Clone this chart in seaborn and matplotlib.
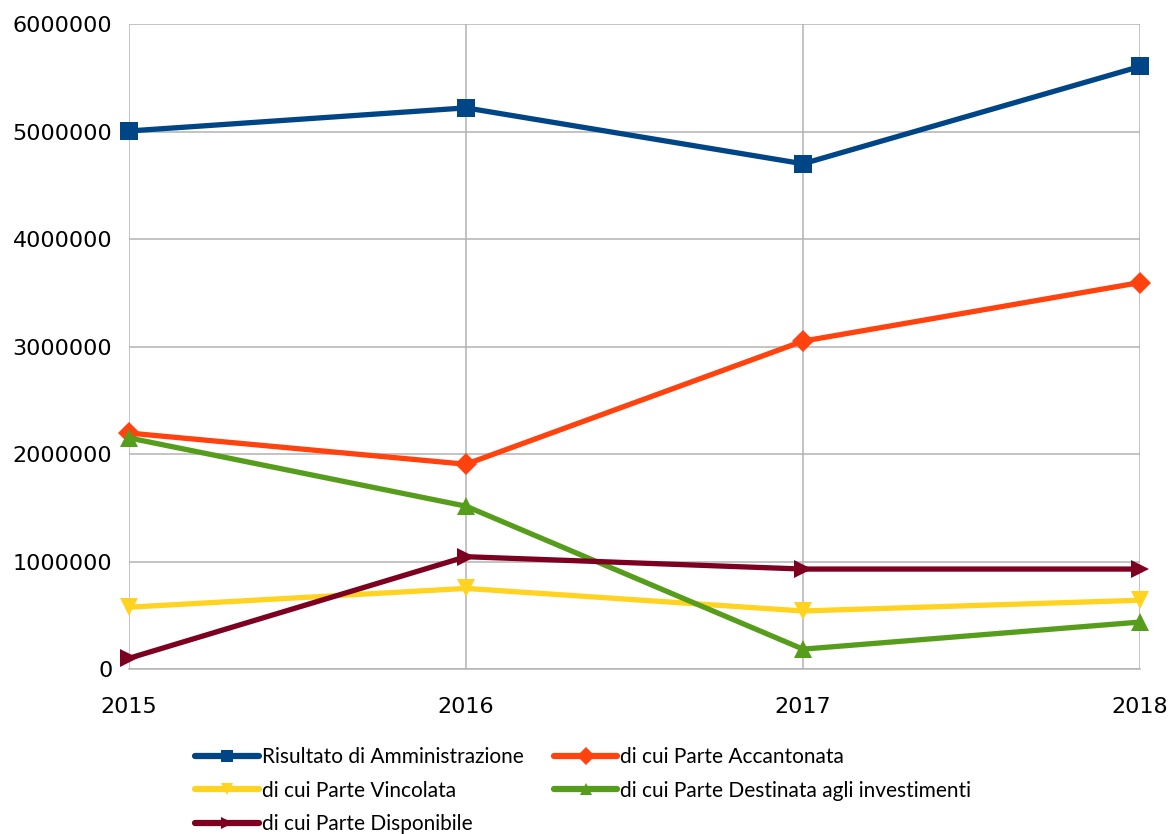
import matplotlib
matplotlib.use("Agg")
import matplotlib.pyplot as plt
import seaborn as sns
import pandas as pd

years = [2015, 2016, 2017, 2018]
series_names = [
    "Risultato di Amministrazione",
    "di cui Parte Accantonata",
    "di cui Parte Vincolata",
    "di cui Parte Destinata agli investimenti",
    "di cui Parte Disponibile",
]
risultato = [5005000, 5220000, 4700000, 5605000]
accantonata = [2195000, 1905000, 3050000, 3595000]
vincolata = [575000, 750000, 540000, 640000]
destinata = [2150000, 1515000, 185000, 437000]
disponibile = [100000, 1045000, 930000, 930000]
values = [risultato, accantonata, vincolata, destinata, disponibile]

colors = ["#004586", "#ff420e", "#ffd320", "#579d1c", "#7e0021"]
marker_list = ["s", "D", "v", "^", ">"]

rows = []
for name, vals in zip(series_names, values):
    for y, v in zip(years, vals):
        rows.append({"Anno": y, "Valore": v, "Serie": name})
df = pd.DataFrame(rows)

sns.set_theme(style="white")
plt.rcParams["font.family"] = ["DejaVu Sans"]

fig = plt.figure(figsize=(11.68, 8.34), dpi=100)
ax = fig.add_axes([0.1104, 0.1978, 0.8656, 0.7734])

sns.lineplot(
    data=df, x="Anno", y="Valore", hue="Serie", style="Serie",
    hue_order=series_names, style_order=series_names,
    palette=dict(zip(series_names, colors)),
    markers=dict(zip(series_names, marker_list)),
    dashes=False, linewidth=3.8, markersize=13, markeredgewidth=0,
    ax=ax, legend=True, clip_on=False,
)
for line in ax.get_lines():
    if line.get_marker() == "D":
        line.set_markersize(11)

ax.set_xlim(2015, 2018)
ax.set_ylim(0, 6000000)
ax.set_xticks(years)
ax.set_xticklabels([str(y) for y in years])
ax.set_yticks(range(0, 6000001, 1000000))
ax.set_yticklabels([str(v) for v in range(0, 6000001, 1000000)])
ax.set_xlabel("")
ax.set_ylabel("")
ax.grid(True, color="#b3b3b3", linewidth=1.1)
ax.set_axisbelow(True)
for s in ["top", "right", "left"]:
    ax.spines[s].set_visible(False)
ax.spines["bottom"].set_color("#b3b3b3")
ax.spines["bottom"].set_linewidth(1.1)
ax.tick_params(axis="both", which="both", length=6, width=1.1, color="#b3b3b3",
               labelsize=16, labelcolor="black")
ax.tick_params(axis="y", pad=6)
ax.tick_params(axis="x", pad=14)

handles, labels = ax.get_legend_handles_labels()
ax.get_legend().remove()
order = [0, 2, 4, 1, 3]
leg = fig.legend(
    [handles[i] for i in order], [labels[i] for i in order],
    loc="lower left", bbox_to_anchor=(0.151, -0.023),
    ncol=2, frameon=False, handlelength=3.05, handletextpad=0.15,
    columnspacing=1.45, labelspacing=0.66, labelcolor="black",
    prop={"family": ["Lato", "DejaVu Sans"], "size": 15},
)
for h in leg.legend_handles:
    h.set_markersize(9)
    h.set_linewidth(4.5)

fig.savefig("out.png", dpi=100)
